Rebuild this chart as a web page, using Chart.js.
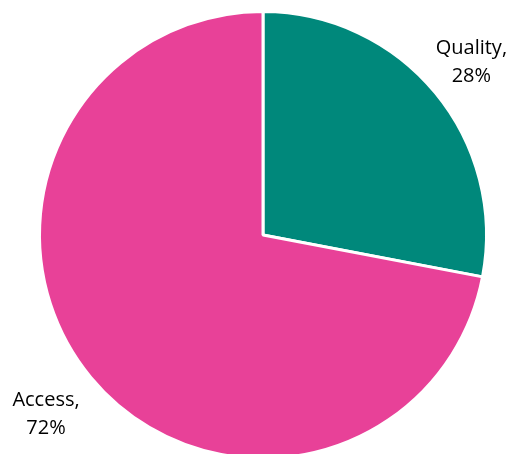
<!DOCTYPE html>
<html>
<head>
<meta charset="utf-8">
<script src="https://cdn.jsdelivr.net/npm/chart.js@4/dist/chart.umd.min.js"></script>
<style>
  html, body { margin: 0; padding: 0; background: #fff; overflow: hidden; }
  #wrap { position: absolute; left: 0; top: 0; width: 526px; height: 470px; }
</style>
</head>
<body>
<div id="wrap"><canvas id="pieChart"></canvas></div>
<script>
const labels = ['Quality', 'Access'];
const values = [28, 72];
const colors = ['#00887B', '#E84198'];

// draws "Name,\nNN%" outside each slice, along its middle angle
const labelDistance = [1.21, 1.26];
const outsideLabels = {
    id: 'outsideLabels',
    afterDatasetsDraw(chart) {
        const ctx = chart.ctx;
        const meta = chart.getDatasetMeta(0);
        ctx.save();
        ctx.font = '20px "Open Sans", sans-serif';
        ctx.fillStyle = '#000';
        ctx.textAlign = 'center';
        ctx.textBaseline = 'middle';
        meta.data.forEach(function (arc, i) {
            const mid = (arc.startAngle + arc.endAngle) / 2;
            const r = arc.outerRadius * labelDistance[i];
            const x = arc.x + Math.cos(mid) * r;
            const y = arc.y + Math.sin(mid) * r;
            ctx.fillText(labels[i] + ',', x, y - 14);
            ctx.fillText(values[i] + '%', x, y + 14);
        });
        ctx.restore();
    }
};

const ctx = document.getElementById('pieChart').getContext('2d');
const pieChart = new Chart(ctx, {
    type: 'pie',
    data: {
        labels: labels,
        datasets: [{
            data: values,
            backgroundColor: colors,
            borderColor: '#ffffff',
            borderWidth: 3
        }]
    },
    options: {
        responsive: true,
        maintainAspectRatio: false,
        animation: false,
        layout: { padding: 10 },
        plugins: {
            legend: { display: false },
            tooltip: { enabled: false }
        }
    },
    plugins: [outsideLabels]
});
</script>
</body>
</html>
